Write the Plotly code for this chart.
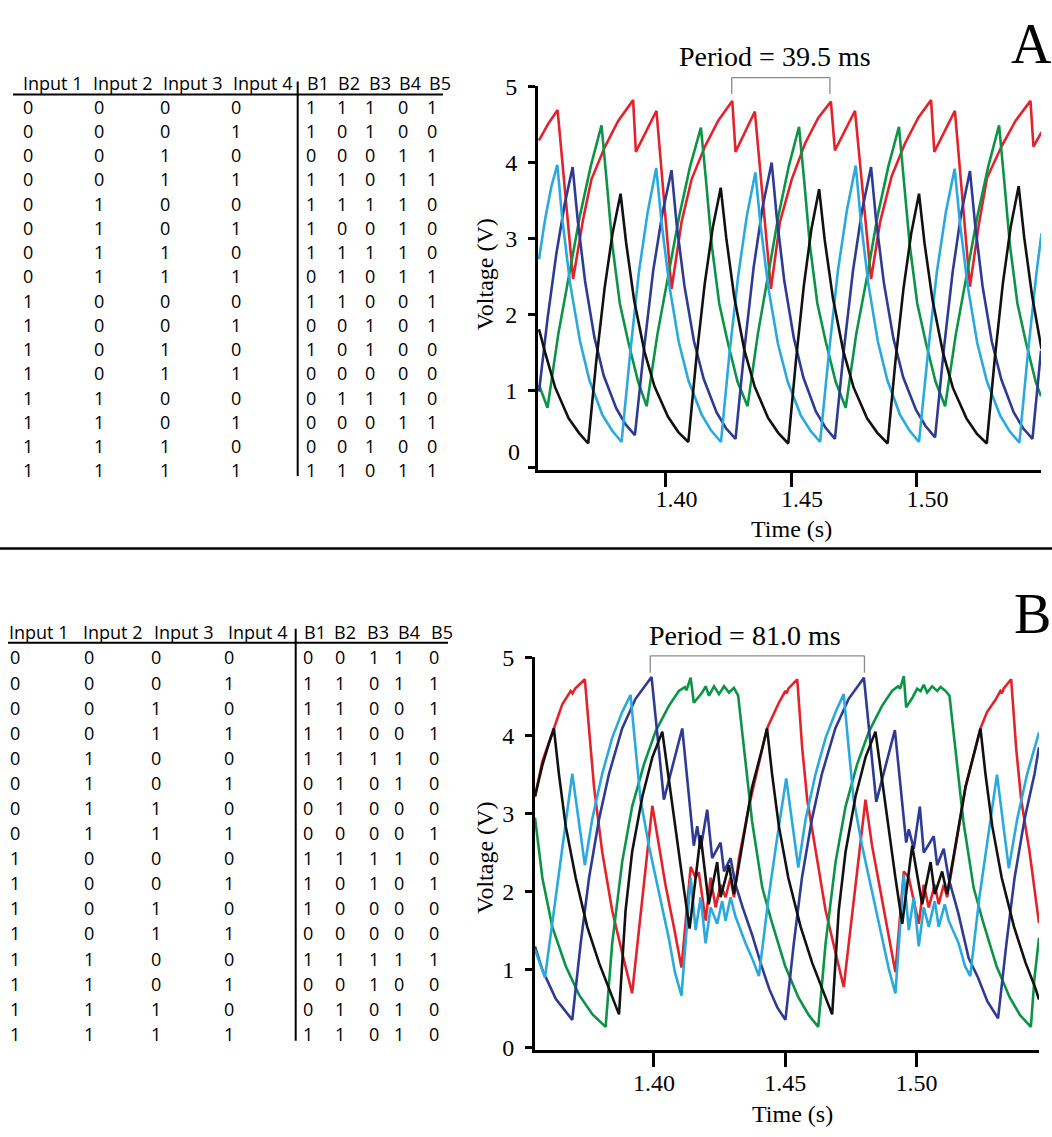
import plotly.graph_objects as go

W, H = 1052, 1137
def PX(x): return x / W
def PY(y): return 1 - y / H

# ---------------- data ----------------
TIME_TICKS = [1.40, 1.45, 1.50]
TIME_TICK_LABELS = ["1.40", "1.45", "1.50"]
VOLT_TICKS = [0, 1, 2, 3, 4, 5]
VOLT_TICK_LABELS = ["0", "1", "2", "3", "4", "5"]

HEADERS_IN = ["Input 1", "Input 2", "Input 3", "Input 4"]
HEADERS_OUT = ["B1", "B2", "B3", "B4", "B5"]
INPUT_ROWS = ["0000", "0001", "0010", "0011", "0100", "0101", "0110", "0111",
              "1000", "1001", "1010", "1011", "1100", "1101", "1110", "1111"]
A_OUT = ["11101", "10100", "00011", "11011", "11110", "10010", "11110", "01011",
         "11001", "00101", "10100", "00000", "01110", "00011", "00100", "11011"]
B_OUT = ["00110", "11011", "11001", "11001", "11110", "01010", "01000", "00001",
         "11110", "10101", "10000", "00000", "11111", "00100", "01010", "11010"]

PERIOD_A = "Period = 39.5 ms"
PERIOD_A_SPAN = [1.4264, 1.4655]
PERIOD_B = "Period = 81.0 ms"
PERIOD_B_SPAN = [1.3986, 1.4802]

# Panel A traces
RED_A_T = [1.3496, 1.3533, 1.3570, 1.3632, 1.3672, 1.3705, 1.3759, 1.3812, 1.3871, 1.3882, 1.3964,
           1.4024, 1.4064, 1.4104, 1.4157, 1.4210, 1.4266, 1.4279, 1.4356, 1.4420, 1.4456, 1.4503,
           1.4556, 1.4609, 1.4659, 1.4675, 1.4755, 1.4819, 1.4855, 1.4901, 1.4954, 1.5007, 1.5058,
           1.5071, 1.5153, 1.5213, 1.5248, 1.5281, 1.5340, 1.5395, 1.5454, 1.5466, 1.5498]
RED_A_V = [4.29, 4.51, 4.69, 2.47, 3.26, 3.78, 4.21, 4.55, 4.82, 4.14, 4.68,
           2.34, 3.22, 3.78, 4.21, 4.55, 4.81, 4.14, 4.67, 2.34, 3.22, 3.78,
           4.25, 4.59, 4.80, 4.16, 4.68, 2.47, 3.22, 3.82, 4.25, 4.59, 4.82,
           4.14, 4.68, 2.37, 3.18, 3.80, 4.22, 4.55, 4.81, 4.21, 4.40]

GREEN_A_T = [1.3496, 1.3530, 1.3573, 1.3616, 1.3659, 1.3702, 1.3745, 1.3765, 1.3788, 1.3818, 1.3852,
             1.3891, 1.3925, 1.3968, 1.4011, 1.4055, 1.4098, 1.4141, 1.4161, 1.4184, 1.4214, 1.4248,
             1.4287, 1.4327, 1.4368, 1.4409, 1.4450, 1.4491, 1.4532, 1.4552, 1.4575, 1.4605, 1.4639,
             1.4678, 1.4718, 1.4760, 1.4803, 1.4845, 1.4888, 1.4930, 1.4950, 1.4973, 1.5003, 1.5037,
             1.5076, 1.5114, 1.5157, 1.5200, 1.5243, 1.5286, 1.5329, 1.5349, 1.5372, 1.5402, 1.5436,
             1.5475, 1.5496]
GREEN_A_V = [1.08, 0.78, 1.75, 2.50, 3.30, 3.95, 4.49, 3.78, 2.92, 2.15, 1.64,
             1.12, 0.80, 1.75, 2.50, 3.30, 3.95, 4.46, 3.78, 2.92, 2.15, 1.64,
             1.12, 0.80, 1.75, 2.50, 3.30, 3.95, 4.47, 3.78, 2.92, 2.15, 1.64,
             1.12, 0.78, 1.75, 2.50, 3.30, 3.95, 4.47, 3.78, 2.92, 2.15, 1.64,
             1.12, 0.80, 1.75, 2.50, 3.30, 3.95, 4.49, 3.78, 2.92, 2.15, 1.64,
             1.12, 0.93]

DBLUE_A_T = [1.3496, 1.3530, 1.3565, 1.3598, 1.3630, 1.3650, 1.3680, 1.3717, 1.3754, 1.3804, 1.3841,
             1.3878, 1.3915, 1.3951, 1.3988, 1.4024, 1.4044, 1.4075, 1.4113, 1.4152, 1.4203, 1.4241,
             1.4279, 1.4315, 1.4351, 1.4387, 1.4423, 1.4443, 1.4473, 1.4511, 1.4549, 1.4599, 1.4637,
             1.4675, 1.4711, 1.4747, 1.4783, 1.4819, 1.4839, 1.4870, 1.4908, 1.4947, 1.4998, 1.5036,
             1.5074, 1.5109, 1.5144, 1.5178, 1.5213, 1.5233, 1.5263, 1.5300, 1.5338, 1.5387, 1.5425,
             1.5462, 1.5496]
DBLUE_A_V = [0.99, 1.95, 2.80, 3.45, 3.94, 3.25, 2.43, 1.70, 1.20, 0.77, 0.56,
             0.42, 1.57, 2.58, 3.34, 3.90, 3.20, 2.39, 1.66, 1.16, 0.72, 0.51,
             0.37, 1.57, 2.62, 3.42, 4.00, 3.29, 2.45, 1.70, 1.18, 0.73, 0.52,
             0.37, 1.55, 2.58, 3.37, 3.94, 3.24, 2.42, 1.69, 1.18, 0.75, 0.54,
             0.39, 1.55, 2.56, 3.33, 3.89, 3.20, 2.38, 1.65, 1.15, 0.72, 0.51,
             0.37, 1.53]

LBLUE_A_T = [1.3496, 1.3520, 1.3545, 1.3569, 1.3589, 1.3620, 1.3659, 1.3697, 1.3748, 1.3787, 1.3825,
             1.3860, 1.3894, 1.3929, 1.3963, 1.3984, 1.4015, 1.4053, 1.4092, 1.4144, 1.4182, 1.4221,
             1.4255, 1.4290, 1.4324, 1.4358, 1.4379, 1.4410, 1.4448, 1.4487, 1.4539, 1.4577, 1.4616,
             1.4652, 1.4687, 1.4723, 1.4758, 1.4778, 1.4808, 1.4846, 1.4884, 1.4934, 1.4972, 1.5010,
             1.5046, 1.5081, 1.5117, 1.5152, 1.5173, 1.5204, 1.5242, 1.5281, 1.5333, 1.5371, 1.5410,
             1.5444, 1.5478, 1.5498]
LBLUE_A_V = [2.73, 3.25, 3.68, 3.97, 3.25, 2.41, 1.66, 1.14, 0.69, 0.48, 0.33,
             1.52, 2.56, 3.35, 3.93, 3.22, 2.39, 1.64, 1.13, 0.69, 0.48, 0.33,
             1.50, 2.52, 3.30, 3.87, 3.17, 2.35, 1.62, 1.12, 0.68, 0.48, 0.33,
             1.53, 2.58, 3.38, 3.96, 3.24, 2.41, 1.65, 1.14, 0.69, 0.48, 0.33,
             1.51, 2.56, 3.35, 3.92, 3.21, 2.38, 1.63, 1.12, 0.68, 0.47, 0.32,
             1.50, 2.55, 3.07]

BLACK_A_T = [1.3496, 1.3520, 1.3560, 1.3614, 1.3655, 1.3692, 1.3724, 1.3757, 1.3789, 1.3821, 1.3843,
             1.3875, 1.3916, 1.3956, 1.4010, 1.4051, 1.4091, 1.4123, 1.4156, 1.4188, 1.4220, 1.4242,
             1.4274, 1.4314, 1.4355, 1.4408, 1.4449, 1.4489, 1.4520, 1.4551, 1.4581, 1.4612, 1.4634,
             1.4667, 1.4708, 1.4749, 1.4803, 1.4844, 1.4885, 1.4916, 1.4948, 1.4979, 1.5010, 1.5032,
             1.5064, 1.5105, 1.5145, 1.5199, 1.5240, 1.5280, 1.5312, 1.5344, 1.5375, 1.5407, 1.5429,
             1.5461, 1.5498]
BLACK_A_V = [1.81, 1.51, 1.05, 0.64, 0.45, 0.31, 1.39, 2.34, 3.07, 3.59, 2.95,
             2.19, 1.52, 1.06, 0.66, 0.46, 0.33, 1.43, 2.40, 3.14, 3.67, 3.01,
             2.23, 1.54, 1.06, 0.65, 0.45, 0.31, 1.41, 2.38, 3.12, 3.65, 2.99,
             2.22, 1.53, 1.05, 0.64, 0.45, 0.31, 1.39, 2.34, 3.07, 3.59, 2.94,
             2.19, 1.51, 1.04, 0.64, 0.44, 0.31, 1.43, 2.41, 3.15, 3.69, 3.02,
             2.24, 1.55]

# Panel B traces
RED_B_T = [1.3547, 1.3575, 1.3619, 1.3651, 1.3683, 1.3690, 1.3700, 1.3737, 1.3755, 1.3772, 1.3803,
           1.3841, 1.3879, 1.3917, 1.3994, 1.4019, 1.4044, 1.4076, 1.4105, 1.4140, 1.4159, 1.4171,
           1.4197, 1.4216, 1.4235, 1.4254, 1.4273, 1.4292, 1.4305, 1.4324, 1.4362, 1.4390, 1.4431,
           1.4476, 1.4501, 1.4506, 1.4512, 1.4546, 1.4565, 1.4584, 1.4616, 1.4654, 1.4692, 1.4723,
           1.4806, 1.4831, 1.4863, 1.4895, 1.4920, 1.4952, 1.4971, 1.5009, 1.5028, 1.5047, 1.5070,
           1.5085, 1.5104, 1.5117, 1.5149, 1.5187, 1.5244, 1.5269, 1.5300, 1.5320, 1.5326, 1.5332,
           1.5361, 1.5380, 1.5399, 1.5431, 1.5467]
RED_B_V = [3.22, 3.67, 4.09, 4.40, 4.57, 4.54, 4.60, 4.72, 4.00, 3.34, 2.51,
           1.76, 1.22, 0.70, 3.10, 2.59, 2.09, 1.55, 1.03, 2.32, 2.18, 2.25,
           1.63, 2.18, 1.80, 2.09, 1.93, 2.18, 1.93, 2.43, 3.09, 3.50, 4.09,
           4.42, 4.57, 4.54, 4.60, 4.72, 3.84, 3.18, 2.51, 1.76, 1.22, 0.78,
           3.18, 2.59, 2.01, 1.43, 0.97, 2.26, 2.18, 1.59, 2.09, 1.80, 2.09,
           1.84, 2.09, 1.93, 2.59, 3.34, 4.09, 4.30, 4.45, 4.57, 4.54, 4.60,
           4.72, 3.84, 3.18, 2.51, 1.60]

GREEN_B_T = [1.3547, 1.3575, 1.3613, 1.3664, 1.3715, 1.3766, 1.3816, 1.3841, 1.3879, 1.3917, 1.3962,
             1.4006, 1.4057, 1.4095, 1.4118, 1.4124, 1.4140, 1.4152, 1.4184, 1.4197, 1.4210, 1.4229,
             1.4248, 1.4267, 1.4286, 1.4305, 1.4321, 1.4345, 1.4374, 1.4413, 1.4450, 1.4500, 1.4550,
             1.4590, 1.4626, 1.4654, 1.4692, 1.4730, 1.4774, 1.4819, 1.4869, 1.4907, 1.4930, 1.4938,
             1.4952, 1.4961, 1.4984, 1.5003, 1.5016, 1.5028, 1.5041, 1.5060, 1.5079, 1.5092, 1.5111,
             1.5126, 1.5150, 1.5179, 1.5218, 1.5255, 1.5305, 1.5355, 1.5395, 1.5436, 1.5450, 1.5467]
GREEN_B_V = [2.95, 2.18, 1.55, 1.05, 0.68, 0.43, 0.27, 1.34, 2.38, 3.09, 3.63,
             4.05, 4.38, 4.57, 4.62, 4.58, 4.74, 4.42, 4.55, 4.63, 4.51, 4.63,
             4.53, 4.63, 4.55, 4.61, 4.51, 3.80, 2.90, 2.05, 1.60, 1.05, 0.65,
             0.42, 0.27, 1.34, 2.38, 3.09, 3.63, 4.05, 4.38, 4.57, 4.63, 4.60,
             4.76, 4.36, 4.48, 4.60, 4.57, 4.65, 4.55, 4.63, 4.57, 4.62, 4.57,
             4.51, 3.80, 2.90, 2.05, 1.60, 1.05, 0.65, 0.42, 0.27, 0.90, 1.41]

DBLUE_B_T = [1.3547, 1.3575, 1.3626, 1.3689, 1.3721, 1.3753, 1.3791, 1.3829, 1.3879, 1.3930, 1.3991,
             1.4038, 1.4108, 1.4152, 1.4165, 1.4178, 1.4203, 1.4222, 1.4254, 1.4267, 1.4292, 1.4311,
             1.4340, 1.4374, 1.4410, 1.4440, 1.4470, 1.4501, 1.4533, 1.4564, 1.4602, 1.4640, 1.4691,
             1.4742, 1.4800, 1.4847, 1.4918, 1.4961, 1.4971, 1.4990, 1.5013, 1.5028, 1.5066, 1.5079,
             1.5104, 1.5123, 1.5160, 1.5199, 1.5235, 1.5270, 1.5311, 1.5343, 1.5374, 1.5412, 1.5450,
             1.5467]
DBLUE_B_V = [1.30, 1.00, 0.63, 0.36, 1.34, 2.18, 2.93, 3.51, 4.09, 4.47, 4.75,
             3.18, 4.09, 2.59, 2.84, 2.55, 3.05, 2.43, 2.63, 2.26, 2.43, 2.09,
             1.78, 1.45, 1.05, 0.75, 0.52, 0.36, 1.34, 2.18, 2.93, 3.51, 4.09,
             4.47, 4.74, 3.15, 4.07, 2.63, 2.80, 2.55, 3.09, 2.50, 2.71, 2.34,
             2.55, 2.17, 1.72, 1.15, 0.90, 0.60, 0.38, 1.34, 2.18, 2.93, 3.51,
             3.85]

LBLUE_B_T = [1.3547, 1.3585, 1.3626, 1.3657, 1.3689, 1.3737, 1.3765, 1.3803, 1.3841, 1.3879, 1.3911,
             1.3930, 1.3949, 1.3981, 1.4019, 1.4057, 1.4080, 1.4105, 1.4140, 1.4159, 1.4178, 1.4197,
             1.4216, 1.4241, 1.4260, 1.4273, 1.4292, 1.4311, 1.4349, 1.4374, 1.4400, 1.4437, 1.4469,
             1.4504, 1.4550, 1.4578, 1.4616, 1.4654, 1.4692, 1.4723, 1.4742, 1.4761, 1.4793, 1.4831,
             1.4869, 1.4895, 1.4920, 1.4952, 1.4971, 1.4990, 1.5009, 1.5028, 1.5047, 1.5070, 1.5085,
             1.5108, 1.5123, 1.5161, 1.5185, 1.5205, 1.5240, 1.5272, 1.5307, 1.5352, 1.5384, 1.5422,
             1.5460, 1.5467]
LBLUE_B_V = [1.26, 0.90, 1.93, 2.68, 3.51, 2.34, 2.93, 3.51, 3.97, 4.30, 4.52,
             3.84, 3.18, 2.59, 2.01, 1.40, 0.97, 0.67, 2.18, 1.51, 1.93, 1.34,
             1.80, 1.59, 1.88, 1.63, 1.93, 1.68, 1.34, 1.15, 0.92, 1.93, 2.68,
             3.45, 2.31, 2.93, 3.51, 3.97, 4.30, 4.53, 3.84, 3.18, 2.59, 2.01,
             1.43, 1.01, 0.70, 2.22, 1.51, 1.93, 1.30, 1.80, 1.55, 1.88, 1.55,
             1.84, 1.63, 1.34, 1.05, 0.92, 1.93, 2.68, 3.50, 2.30, 2.93, 3.51,
             3.97, 4.04]

BLACK_B_T = [1.3547, 1.3575, 1.3600, 1.3619, 1.3638, 1.3664, 1.3702, 1.3746, 1.3791, 1.3829, 1.3867,
             1.3892, 1.3917, 1.3956, 1.3994, 1.4032, 1.4057, 1.4083, 1.4108, 1.4136, 1.4178, 1.4209,
             1.4241, 1.4254, 1.4286, 1.4305, 1.4336, 1.4374, 1.4413, 1.4431, 1.4450, 1.4476, 1.4512,
             1.4559, 1.4603, 1.4641, 1.4679, 1.4704, 1.4730, 1.4768, 1.4806, 1.4844, 1.4869, 1.4895,
             1.4920, 1.4946, 1.4984, 1.5022, 1.5054, 1.5070, 1.5098, 1.5117, 1.5149, 1.5187, 1.5225,
             1.5244, 1.5263, 1.5289, 1.5325, 1.5372, 1.5416, 1.5454, 1.5467]
BLACK_B_V = [3.22, 3.62, 3.90, 4.09, 3.51, 2.84, 2.18, 1.55, 1.09, 0.76, 0.43,
             1.76, 2.51, 3.22, 3.72, 4.05, 3.43, 2.76, 2.18, 1.53, 2.72, 1.84,
             2.38, 1.93, 2.34, 1.97, 2.59, 3.34, 3.84, 4.09, 3.51, 2.84, 2.18,
             1.55, 1.09, 0.76, 0.43, 1.76, 2.51, 3.22, 3.72, 4.05, 3.43, 2.76,
             2.18, 1.59, 2.59, 1.84, 2.38, 1.97, 2.26, 1.97, 2.59, 3.34, 3.84,
             4.09, 3.51, 2.84, 2.18, 1.55, 1.09, 0.76, 0.62]

# ---------------- styles ----------------
COL = {"red": "#E3222B", "green": "#0C9446", "dblue": "#2E3A93",
       "lblue": "#2AA9DF", "black": "#111111"}
SERIF = "Liberation Serif"
SANS = "Open Sans"
LW = 2.6

fig = go.Figure()

panelA = [("red", RED_A_T, RED_A_V), ("green", GREEN_A_T, GREEN_A_V),
          ("dblue", DBLUE_A_T, DBLUE_A_V), ("lblue", LBLUE_A_T, LBLUE_A_V),
          ("black", BLACK_A_T, BLACK_A_V)]
panelB = [("red", RED_B_T, RED_B_V), ("green", GREEN_B_T, GREEN_B_V),
          ("dblue", DBLUE_B_T, DBLUE_B_V), ("lblue", LBLUE_B_T, LBLUE_B_V),
          ("black", BLACK_B_T, BLACK_B_V)]

for c, t, v in panelA:
    assert len(t) == len(v), c
    fig.add_trace(go.Scatter(x=t, y=v, mode="lines", line=dict(color=COL[c], width=LW),
                             xaxis="x", yaxis="y", hoverinfo="skip", showlegend=False))
for c, t, v in panelB:
    assert len(t) == len(v), c
    fig.add_trace(go.Scatter(x=t, y=v, mode="lines", line=dict(color=COL[c], width=LW),
                             xaxis="x2", yaxis="y2", hoverinfo="skip", showlegend=False))

tickfont = dict(family=SERIF, size=24, color="black")
common = dict(showline=True, linewidth=3, linecolor="black", ticks="outside",
              tickwidth=3, tickcolor="black", showgrid=False, zeroline=False,
              tickfont=tickfont, fixedrange=True)

fig.update_layout(
    width=W, height=H, margin=dict(l=0, r=0, t=0, b=0),
    paper_bgcolor="white", plot_bgcolor="white", showlegend=False,
    xaxis=dict(domain=[PX(538), PX(1041)], range=[1.3492, 1.5496], anchor="y",
               tickvals=TIME_TICKS, ticktext=TIME_TICK_LABELS, ticklen=14,
               ticklabelstandoff=-9, ticklabelshift=11, **common),
    yaxis=dict(domain=[PY(467), PY(75)], range=[-0.04, 5.0], anchor="x",
               tickvals=VOLT_TICKS, ticktext=[""] + VOLT_TICK_LABELS[1:], ticklen=7,
               ticklabelstandoff=6, **common),
    xaxis2=dict(domain=[PX(535), PX(1039)], range=[1.3547, 1.5467], anchor="y2",
                tickvals=TIME_TICKS, ticktext=TIME_TICK_LABELS, ticklen=14,
                ticklabelstandoff=-5, **common),
    yaxis2=dict(domain=[PY(1059.7), PY(658.3)], range=[-0.03, 5.0], anchor="x2",
                tickvals=VOLT_TICKS, ticktext=VOLT_TICK_LABELS, ticklen=7,
                ticklabelstandoff=6, **common),
)

ann = []
shapes = []

def text(x, y, s, size, family=SANS, xanchor="left", angle=0):
    ann.append(dict(x=PX(x), y=PY(y), xref="paper", yref="paper", text=s,
                    showarrow=False, xanchor=xanchor, yanchor="middle", textangle=angle,
                    font=dict(family=family, size=size, color="black"), borderpad=0))

def line(x0, y0, x1, y1, w=2, color="black"):
    shapes.append(dict(type="line", xref="paper", yref="paper", x0=PX(x0), y0=PY(y0),
                       x1=PX(x1), y1=PY(y1), line=dict(color=color, width=w)))

# ---- tables ----
tables = [
    dict(out=A_OUT, head_y=71, row0=95.7, dy=24.77,
         head_in_x=[21.7, 91.7, 161.7, 231.7], head_out_x=[306, 336.7, 367.7, 397.7, 427.7],
         in_x=[21.7, 92.5, 158.5, 229.5], out_x=[305, 336, 363.5, 397, 425.5],
         under=(13, 443, 83.3), vert=(297.7, 70, 473)),
    dict(out=B_OUT, head_y=632.5, row0=658.3, dy=25.64,
         head_in_x=[8.3, 81.7, 153.3, 226.7], head_out_x=[303.3, 333.3, 366, 396.7, 430],
         in_x=[9.3, 82.7, 150, 223.3], out_x=[301.7, 334.3, 367.7, 393.3, 427.7],
         under=(8, 448, 643.3), vert=(295.7, 629, 1050)),
]
for tb in tables:
    for h, x in zip(HEADERS_IN, tb["head_in_x"]):
        text(x, tb["head_y"], h, 18)
    for h, x in zip(HEADERS_OUT, tb["head_out_x"]):
        text(x, tb["head_y"], h, 18)
    for i, (inp, out) in enumerate(zip(INPUT_ROWS, tb["out"])):
        y = tb["row0"] + i * tb["dy"]
        for ch, x in zip(inp, tb["in_x"]):
            text(x, y, ch, 18)
        for ch, x in zip(out, tb["out_x"]):
            text(x, y, ch, 18)
    ux0, ux1, uy = tb["under"]
    line(ux0, uy, ux1, uy, 2)
    vx, vy0, vy1 = tb["vert"]
    line(vx, vy0, vx, vy1, 2)

# divider
line(0, 547, W, 547, 2.5)

# ---- panel labels, titles ----
text(1031, 32, "A", 56, SERIF, "center")
text(1032, 613.5, "B", 56, SERIF, "center")
text(775, 44.5, PERIOD_A, 28, SERIF, "center")
text(745, 635.5, PERIOD_B, 28, SERIF, "center")
text(485, 267, "Voltage (V)", 24, SERIF, "center", -90)
text(485, 863, "Voltage (V)", 24, SERIF, "center", -90)
text(791, 527, "Time (s)", 24, SERIF, "center")
text(792, 1125, "Time (s)", 24, SERIF, "center")
text(521, 448, VOLT_TICK_LABELS[0], 24, SERIF, "right")

# period brackets
for xa, span, ytop, ybot in [("x", PERIOD_A_SPAN, 66, 82.7),
                             ("x2", PERIOD_B_SPAN, 656.7, 674)]:
    for x0, y0, x1, y1 in [(span[0], ybot, span[0], ytop), (span[0], ytop, span[1], ytop),
                           (span[1], ytop, span[1], ybot)]:
        shapes.append(dict(type="line", xref=xa, yref="paper", x0=x0, x1=x1, y0=PY(y0), y1=PY(y1),
                           line=dict(color="#8a8a8a", width=1.3)))

fig.update_layout(annotations=ann, shapes=shapes)
fig.write_html("out.html")
